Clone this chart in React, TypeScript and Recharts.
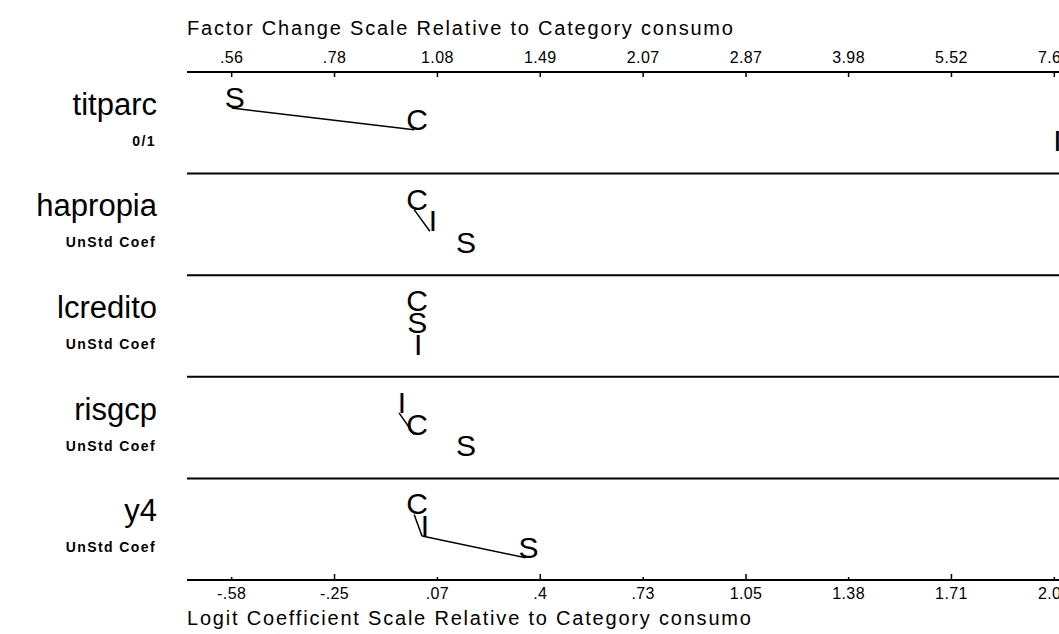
import React from 'react';
import { ScatterChart, Scatter, XAxis, YAxis, ReferenceLine } from 'recharts';

const FONT = '"Liberation Sans", Arial, Helvetica, sans-serif';

const variables = ['titparc', 'hapropia', 'lcredito', 'risgcp', 'y4'];
const varUnits = ['0/1', 'UnStd Coef', 'UnStd Coef', 'UnStd Coef', 'UnStd Coef'];

// logit coefficients relative to consumo (C)
const coefC = [0, 0, 0, 0, 0];
const coefI = [2.035, 0.05, 0.003, -0.048, 0.025];
const coefS = [-0.58, 0.155, 0.0, 0.155, 0.354];

// stacking level of each letter inside its row (0 = highest)
const levelC = [1, 0, 0, 1, 0];
const levelI = [2, 1, 2, 0, 1];
const levelS = [0, 2, 1, 2, 2];

const logitTicks = [-0.58, -0.253, 0.074, 0.401, 0.728, 1.055, 1.381, 1.708, 2.035];
const logitLabels = ['-.58', '-.25', '.07', '.4', '.73', '1.05', '1.38', '1.71', '2.03'];
const factorLabels = ['.56', '.78', '1.08', '1.49', '2.07', '2.87', '3.98', '5.52', '7.65'];

// letters joined by a line: [row, from, to]
const links: [number, string, string][] = [
  [0, 'S', 'C'],
  [1, 'C', 'I'],
  [3, 'I', 'C'],
  [4, 'C', 'I'],
  [4, 'I', 'S'],
];

const letterSets = [
  { letter: 'C', coef: coefC, level: levelC },
  { letter: 'I', coef: coefI, level: levelI },
  { letter: 'S', coef: coefS, level: levelS },
];

const rowY = (row: number, level: number) => 5 - row - (0.355 + 0.213 * level);

const points = letterSets.flatMap((s) =>
  variables.map((v, row) => ({ x: s.coef[row], y: rowY(row, s.level[row]), letter: s.letter, row }))
);

const findPoint = (row: number, letter: string) => points.find((p) => p.row === row && p.letter === letter)!;

const segments = links.map(([row, a, b]) => [findPoint(row, a), findPoint(row, b)]);

const Letter = (props: any) => {
  const { cx, cy, payload } = props;
  return (
    <text x={cx + 3} y={cy} textAnchor="middle" fontSize={30} fontFamily={FONT} fill="#000">
      {payload.letter}
    </text>
  );
};

const TopTick = (props: any) => {
  const { x, y, index } = props;
  return (
    <g>
      <line x1={x} y1={y} x2={x} y2={y + 5} stroke="#000" strokeWidth={1.5} />
      <text x={x} y={y - 9} textAnchor="middle" fontSize={16} letterSpacing={0.4} fontFamily={FONT} fill="#000">
        {factorLabels[index]}
      </text>
    </g>
  );
};

const BottomTick = (props: any) => {
  const { x, y, index } = props;
  const len = index % 2 === 1 ? 6 : 3;
  return (
    <g>
      <line x1={x} y1={y} x2={x} y2={y - len} stroke="#000" strokeWidth={1.5} />
      <text x={x} y={y + 19} textAnchor="middle" fontSize={16} letterSpacing={0.4} fontFamily={FONT} fill="#000">
        {logitLabels[index]}
      </text>
    </g>
  );
};

const RowTick = (props: any) => {
  const { x, y, payload } = props;
  const row = Math.round(4.5 - payload.value);
  return (
    <g>
      <text x={x - 30} y={y - 8} textAnchor="end" fontSize={31} fontFamily={FONT} fill="#000">
        {variables[row]}
      </text>
      <text x={x - 31} y={y + 23} textAnchor="end" fontSize={14} fontWeight="bold" letterSpacing={1.4} fontFamily={FONT} fill="#000">
        {varUnits[row]}
      </text>
    </g>
  );
};

const App: React.FC = () => {
  return (
    <div style={{ position: 'fixed', left: 0, top: 0, width: 1059, height: 634, overflow: 'hidden', background: '#fff' }}>
      <ScatterChart width={1110} height={634} margin={{ top: 32, right: 11, bottom: 14, left: 7 }}>
        <XAxis
          xAxisId="top"
          orientation="top"
          type="number"
          dataKey="x"
          domain={[-0.722, 2.177]}
          ticks={logitTicks}
          interval={0}
          height={40}
          tickSize={0}
          tickMargin={0}
          tickLine={false}
          axisLine={{ stroke: '#000', strokeWidth: 2 }}
          tick={<TopTick />}
          label={{
            content: () => (
              <text x={187} y={35} fontSize={20} letterSpacing={1.8} fontFamily={FONT} fill="#000">
                Factor Change Scale Relative to Category consumo
              </text>
            ),
          }}
        />
        <XAxis
          xAxisId="bottom"
          orientation="bottom"
          type="number"
          dataKey="x"
          domain={[-0.722, 2.177]}
          ticks={logitTicks}
          interval={0}
          height={40}
          tickSize={0}
          tickMargin={0}
          tickLine={false}
          axisLine={{ stroke: '#000', strokeWidth: 2 }}
          tick={<BottomTick />}
          label={{
            content: () => (
              <text x={187} y={625} fontSize={20} letterSpacing={1.8} fontFamily={FONT} fill="#000">
                Logit Coefficient Scale Relative to Category consumo
              </text>
            ),
          }}
        />
        <YAxis
          yAxisId="rows"
          type="number"
          dataKey="y"
          domain={[0, 5]}
          ticks={[4.5, 3.5, 2.5, 1.5, 0.5]}
          interval={0}
          width={180}
          tickSize={0}
          tickMargin={0}
          tickLine={false}
          axisLine={false}
          tick={<RowTick />}
        />
        {[1, 2, 3, 4].map((v) => (
          <ReferenceLine key={v} y={v} xAxisId="bottom" yAxisId="rows" stroke="#000" strokeWidth={2} />
        ))}
        {/* invisible series so the factor-change axis gets its ticks */}
        <Scatter data={points} xAxisId="top" yAxisId="rows" shape={() => <g />} isAnimationActive={false} />
        {segments.map((seg, i) => (
          <Scatter
            key={`link-${i}`}
            data={seg}
            xAxisId="bottom"
            yAxisId="rows"
            line={{ stroke: '#000', strokeWidth: 1.5 }}
            shape={() => <g />}
            isAnimationActive={false}
          />
        ))}
        <Scatter data={points} xAxisId="bottom" yAxisId="rows" shape={<Letter />} isAnimationActive={false} />
      </ScatterChart>
    </div>
  );
};

export default App;
